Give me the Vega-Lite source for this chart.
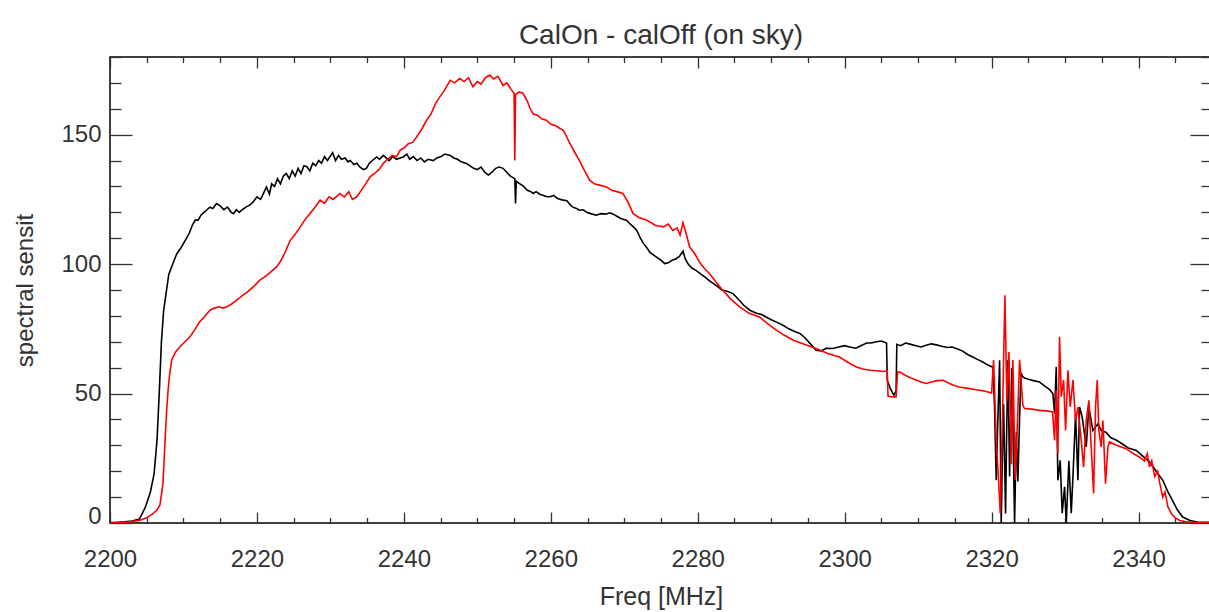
{
  "$schema": "https://vega.github.io/schema/vega-lite/v6.json",
  "width": 1102,
  "height": 466,
  "autosize": {"type": "none"},
  "padding": {"left": 110, "top": 57, "right": 0, "bottom": 89},
  "background": "white",
  "config": {
    "font": "Liberation Sans",
    "view": {"stroke": "#000", "strokeWidth": 1.5},
    "axis": {"domain": false, "grid": false, "labelFont": "Liberation Sans", "titleFont": "Liberation Sans", "labelColor": "#333", "titleColor": "#333", "labelFontSize": 24, "titleFontWeight": "normal", "tickColor": "#333", "tickWidth": 1.3}
  },
  "title": {"text": "CalOn - calOff (on sky)", "fontSize": 28, "fontWeight": "normal", "color": "#333", "font": "Liberation Sans", "offset": -5, "anchor": "middle"},
  "datasets": {
    "black": [
      {"f":2200,"v":0.2},{"f":2201,"v":0.3},{"f":2202,"v":0.5},{"f":2203,"v":0.8},{"f":2204,"v":1.5},{"f":2204.8,"v":6},{"f":2205.5,"v":12},{"f":2206,"v":19},{"f":2206.4,"v":32},{"f":2206.7,"v":50},{"f":2207,"v":70},{"f":2207.3,"v":82},{"f":2207.7,"v":90},{"f":2208,"v":96},{"f":2208.4,"v":99},{"f":2208.8,"v":102},{"f":2209.1,"v":104},{"f":2209.6,"v":106},{"f":2210.2,"v":109},{"f":2210.8,"v":112},{"f":2211.2,"v":115},{"f":2211.6,"v":117},{"f":2212,"v":117},{"f":2212.4,"v":119},{"f":2212.8,"v":120},{"f":2213.2,"v":121},{"f":2213.6,"v":122},{"f":2214,"v":121.5},{"f":2214.5,"v":123.4},{"f":2215,"v":122.5},{"f":2215.5,"v":121},{"f":2216,"v":122},{"f":2216.5,"v":120},{"f":2216.8,"v":119.5},{"f":2217.2,"v":121},{"f":2217.6,"v":120},{"f":2218,"v":121},{"f":2218.5,"v":122},{"f":2219,"v":122.8},{"f":2219.5,"v":124},{"f":2220,"v":126},{"f":2220.5,"v":125},{"f":2221,"v":128},{"f":2221.3,"v":129.8},{"f":2221.7,"v":127},{"f":2222,"v":131},{"f":2222.4,"v":130},{"f":2222.8,"v":133},{"f":2223.2,"v":131},{"f":2223.6,"v":134},{"f":2224,"v":135},{"f":2224.4,"v":133},{"f":2224.8,"v":136},{"f":2225.2,"v":134},{"f":2225.6,"v":137},{"f":2226,"v":135},{"f":2226.4,"v":138},{"f":2226.8,"v":137.6},{"f":2227.2,"v":136},{"f":2227.6,"v":139},{"f":2228,"v":138},{"f":2228.4,"v":140},{"f":2228.8,"v":139},{"f":2229.2,"v":141.5},{"f":2229.6,"v":140},{"f":2229.9,"v":141.4},{"f":2230.3,"v":143},{"f":2230.7,"v":140},{"f":2231.1,"v":142},{"f":2231.5,"v":140.5},{"f":2232,"v":141},{"f":2232.4,"v":139.5},{"f":2232.7,"v":140},{"f":2233.2,"v":138.5},{"f":2233.6,"v":139},{"f":2234,"v":137.5},{"f":2234.5,"v":136.5},{"f":2234.9,"v":137},{"f":2235.3,"v":139},{"f":2235.7,"v":140},{"f":2236.3,"v":141.4},{"f":2236.7,"v":140.5},{"f":2237.2,"v":142},{"f":2237.6,"v":141},{"f":2238,"v":140},{"f":2238.5,"v":141.5},{"f":2239,"v":140.5},{"f":2239.5,"v":141},{"f":2239.9,"v":141.4},{"f":2240.4,"v":142.5},{"f":2240.8,"v":140.5},{"f":2241.3,"v":141.5},{"f":2241.8,"v":140},{"f":2242.3,"v":141},{"f":2242.8,"v":139.5},{"f":2243.3,"v":140.5},{"f":2244,"v":140},{"f":2244.5,"v":141},{"f":2245,"v":141.5},{"f":2245.6,"v":142.5},{"f":2246.3,"v":142},{"f":2246.8,"v":141},{"f":2247.3,"v":140.5},{"f":2247.8,"v":139.5},{"f":2248.5,"v":138.9},{"f":2249,"v":138},{"f":2249.5,"v":137},{"f":2250,"v":136.5},{"f":2250.5,"v":137.5},{"f":2251,"v":135.5},{"f":2251.5,"v":134.4},{"f":2252,"v":135.5},{"f":2252.5,"v":137},{"f":2253,"v":137.5},{"f":2253.5,"v":137},{"f":2254,"v":135.5},{"f":2254.5,"v":134},{"f":2255.1,"v":133},{"f":2255.2,"v":123.4},{"f":2255.3,"v":132},{"f":2255.8,"v":131},{"f":2256.3,"v":130},{"f":2256.8,"v":128.5},{"f":2257.3,"v":128},{"f":2257.6,"v":127.3},{"f":2258,"v":128},{"f":2258.5,"v":127},{"f":2259,"v":126.5},{"f":2259.5,"v":126},{"f":2259.9,"v":126},{"f":2260.4,"v":126.5},{"f":2260.8,"v":125.5},{"f":2261.3,"v":125},{"f":2261.7,"v":124.7},{"f":2262.2,"v":124.5},{"f":2262.6,"v":123},{"f":2263,"v":122},{"f":2263.5,"v":121.5},{"f":2263.9,"v":120.8},{"f":2264.4,"v":121},{"f":2264.9,"v":120},{"f":2265.4,"v":119.5},{"f":2266.2,"v":118.9},{"f":2266.8,"v":119.5},{"f":2267.5,"v":119.3},{"f":2268,"v":119.8},{"f":2268.5,"v":119.3},{"f":2269,"v":118.5},{"f":2269.6,"v":117.5},{"f":2270.3,"v":117},{"f":2270.8,"v":115.5},{"f":2271.2,"v":114.5},{"f":2271.7,"v":113},{"f":2272.2,"v":110},{"f":2272.6,"v":108},{"f":2273,"v":106.6},{"f":2273.5,"v":104.5},{"f":2274,"v":103.5},{"f":2274.5,"v":102.5},{"f":2275,"v":101.5},{"f":2275.5,"v":100.2},{"f":2276,"v":100.5},{"f":2276.5,"v":101.5},{"f":2277,"v":102},{"f":2277.5,"v":103},{"f":2278,"v":105},{"f":2278.3,"v":102},{"f":2278.7,"v":100},{"f":2279.2,"v":98.5},{"f":2279.8,"v":97.5},{"f":2280.3,"v":96.4},{"f":2281,"v":95},{"f":2281.6,"v":93.5},{"f":2282.5,"v":91.8},{"f":2283.3,"v":90},{"f":2284,"v":89.5},{"f":2284.8,"v":88.6},{"f":2285.5,"v":86.5},{"f":2286.3,"v":84},{"f":2287.1,"v":82.2},{"f":2288,"v":81},{"f":2288.7,"v":80.5},{"f":2289.3,"v":79.6},{"f":2290,"v":78.5},{"f":2290.8,"v":77.5},{"f":2291.6,"v":76.4},{"f":2292.4,"v":75},{"f":2293.2,"v":74},{"f":2293.9,"v":73.2},{"f":2294.6,"v":71.5},{"f":2295.4,"v":69},{"f":2296.1,"v":66.7},{"f":2296.8,"v":66.5},{"f":2297.5,"v":67.5},{"f":2298.4,"v":67.4},{"f":2299.2,"v":68},{"f":2300,"v":68.5},{"f":2300.7,"v":68},{"f":2301.5,"v":67.5},{"f":2302.2,"v":68.5},{"f":2303,"v":69.5},{"f":2303.6,"v":69.5},{"f":2304.3,"v":70},{"f":2305,"v":70.3},{"f":2305.7,"v":69.5},{"f":2305.8,"v":55},{"f":2306.2,"v":52},{"f":2306.7,"v":49.3},{"f":2307,"v":51},{"f":2307.1,"v":69},{"f":2307.6,"v":68.5},{"f":2308.3,"v":69.5},{"f":2309,"v":69},{"f":2309.7,"v":68.5},{"f":2310.4,"v":68},{"f":2311.1,"v":68.7},{"f":2311.8,"v":69.2},{"f":2312.5,"v":68.8},{"f":2313.2,"v":68.3},{"f":2314,"v":67.8},{"f":2314.6,"v":68},{"f":2315.2,"v":67.4},{"f":2316,"v":66.5},{"f":2316.8,"v":65},{"f":2317.5,"v":64},{"f":2318.2,"v":63},{"f":2318.8,"v":62.2},{"f":2319.5,"v":61},{"f":2320.1,"v":60.3},{"f":2320.18,"v":60},{"f":2320.4,"v":45},{"f":2320.63,"v":16.5},{"f":2320.85,"v":40},{"f":2321.09,"v":62.9},{"f":2321.31,"v":0},{"f":2321.5,"v":30},{"f":2321.63,"v":46},{"f":2321.9,"v":3.7},{"f":2322.05,"v":35},{"f":2322.22,"v":63},{"f":2322.45,"v":18},{"f":2322.6,"v":40},{"f":2322.77,"v":60},{"f":2323.13,"v":0},{"f":2323.36,"v":35},{"f":2323.58,"v":16},{"f":2323.8,"v":40},{"f":2324.0,"v":58},{"f":2324.26,"v":56.4},{"f":2324.49,"v":56},{"f":2325,"v":55.5},{"f":2325.7,"v":55},{"f":2326.5,"v":54.5},{"f":2327.2,"v":53},{"f":2327.9,"v":51.5},{"f":2328.34,"v":50},{"f":2328.57,"v":42.3},{"f":2328.8,"v":60.3},{"f":2329.02,"v":16.5},{"f":2329.34,"v":24.2},{"f":2329.61,"v":3.8},{"f":2329.93,"v":14},{"f":2330.16,"v":0},{"f":2330.52,"v":24},{"f":2330.84,"v":3.8},{"f":2331.07,"v":17.8},{"f":2331.43,"v":42},{"f":2331.75,"v":16.5},{"f":2331.97,"v":44.8},{"f":2332.33,"v":41},{"f":2332.88,"v":29.4},{"f":2333.24,"v":44.8},{"f":2333.79,"v":35.7},{"f":2334.47,"v":38.3},{"f":2334.92,"v":35.7},{"f":2335.6,"v":35},{"f":2336.2,"v":33},{"f":2337,"v":32},{"f":2337.8,"v":30.5},{"f":2338.6,"v":29},{"f":2339.7,"v":28},{"f":2340.5,"v":26},{"f":2341.5,"v":23.6},{"f":2342.4,"v":20},{"f":2343.3,"v":16.5},{"f":2344,"v":12},{"f":2344.6,"v":8.8},{"f":2345.3,"v":5},{"f":2346,"v":2.3},{"f":2347,"v":1},{"f":2348,"v":0.4},{"f":2350,"v":0.2}
    ],
    "red": [
      {"f":2200,"v":0.1},{"f":2201,"v":0.2},{"f":2202,"v":0.3},{"f":2203,"v":0.6},{"f":2204,"v":1},{"f":2205,"v":2},{"f":2205.8,"v":3.5},{"f":2206.4,"v":5},{"f":2206.8,"v":7},{"f":2207.2,"v":15},{"f":2207.5,"v":32},{"f":2207.7,"v":43},{"f":2207.9,"v":51},{"f":2208.1,"v":57},{"f":2208.4,"v":63},{"f":2208.9,"v":66},{"f":2209.5,"v":68},{"f":2210.2,"v":70},{"f":2210.9,"v":72},{"f":2211.5,"v":74.5},{"f":2212.2,"v":77.7},{"f":2212.8,"v":79.5},{"f":2213.6,"v":82.2},{"f":2214.2,"v":83},{"f":2214.8,"v":83.5},{"f":2215.4,"v":83},{"f":2215.9,"v":83.5},{"f":2216.5,"v":84.5},{"f":2217.2,"v":86},{"f":2218.1,"v":88},{"f":2218.8,"v":89.5},{"f":2219.6,"v":91.5},{"f":2220.4,"v":93.8},{"f":2221,"v":95},{"f":2221.7,"v":96.5},{"f":2222.7,"v":99},{"f":2223.3,"v":101.5},{"f":2223.9,"v":105},{"f":2224.5,"v":109},{"f":2225.2,"v":111.5},{"f":2225.9,"v":114.4},{"f":2226.5,"v":117},{"f":2227.2,"v":119.5},{"f":2227.9,"v":122},{"f":2228.6,"v":124.7},{"f":2229.2,"v":123.5},{"f":2229.8,"v":126},{"f":2230.4,"v":125},{"f":2231.3,"v":127.3},{"f":2231.9,"v":126},{"f":2232.5,"v":128},{"f":2233,"v":125},{"f":2233.6,"v":126},{"f":2234.2,"v":128.5},{"f":2234.8,"v":131},{"f":2235.4,"v":133.7},{"f":2236,"v":135},{"f":2236.6,"v":136.5},{"f":2237.2,"v":138.9},{"f":2237.8,"v":140.5},{"f":2238.4,"v":142},{"f":2239,"v":141.5},{"f":2239.5,"v":144},{"f":2240.1,"v":145},{"f":2240.6,"v":146.5},{"f":2241.2,"v":147},{"f":2241.7,"v":149},{"f":2242.4,"v":152},{"f":2243.1,"v":155.6},{"f":2243.7,"v":158},{"f":2244.3,"v":162},{"f":2244.9,"v":164.6},{"f":2245.5,"v":167},{"f":2246.3,"v":171},{"f":2246.9,"v":170},{"f":2247.6,"v":171.7},{"f":2248.2,"v":170.5},{"f":2248.8,"v":172},{"f":2249.4,"v":168.5},{"f":2250,"v":170.5},{"f":2250.5,"v":169.5},{"f":2251.1,"v":172},{"f":2251.7,"v":173},{"f":2252.2,"v":171.5},{"f":2252.8,"v":172.5},{"f":2253.5,"v":169},{"f":2254,"v":170},{"f":2254.6,"v":167.5},{"f":2255,"v":166},{"f":2255.1,"v":140},{"f":2255.2,"v":165.5},{"f":2255.7,"v":166.5},{"f":2256.2,"v":166},{"f":2256.8,"v":163},{"f":2257.2,"v":160},{"f":2257.6,"v":158},{"f":2258.2,"v":157.5},{"f":2258.8,"v":156},{"f":2259.4,"v":155.6},{"f":2260,"v":154},{"f":2260.6,"v":153.5},{"f":2261.2,"v":152.5},{"f":2261.7,"v":151.7},{"f":2262.2,"v":149},{"f":2262.6,"v":146.6},{"f":2263.2,"v":143.5},{"f":2263.9,"v":140},{"f":2264.6,"v":136},{"f":2265.3,"v":132.4},{"f":2265.9,"v":131},{"f":2266.6,"v":130.5},{"f":2267.6,"v":129.8},{"f":2268.3,"v":128.5},{"f":2269,"v":128},{"f":2269.8,"v":127.3},{"f":2270.5,"v":124},{"f":2271.2,"v":119.5},{"f":2272,"v":118},{"f":2273,"v":117},{"f":2273.5,"v":116.3},{"f":2274.2,"v":115},{"f":2275.3,"v":114.4},{"f":2276,"v":115.5},{"f":2276.6,"v":113},{"f":2277.2,"v":114},{"f":2277.6,"v":111.2},{"f":2278,"v":116},{"f":2278.4,"v":112},{"f":2278.9,"v":106.6},{"f":2279.6,"v":104},{"f":2280.3,"v":100.5},{"f":2281,"v":98},{"f":2281.6,"v":96.4},{"f":2282.5,"v":93},{"f":2283.4,"v":89.9},{"f":2284.5,"v":86.5},{"f":2285.7,"v":83.5},{"f":2287,"v":81},{"f":2288.4,"v":79.6},{"f":2289.5,"v":77},{"f":2290.7,"v":74.5},{"f":2291.8,"v":72.5},{"f":2293,"v":70.6},{"f":2294.5,"v":69},{"f":2296.1,"v":67.4},{"f":2297.7,"v":65.5},{"f":2299.3,"v":64.1},{"f":2300.7,"v":61.6},{"f":2301.6,"v":60.3},{"f":2302.5,"v":59.5},{"f":2303.4,"v":59},{"f":2304.3,"v":58.8},{"f":2305.2,"v":58.5},{"f":2305.8,"v":58.7},{"f":2305.9,"v":49},{"f":2306.5,"v":48.7},{"f":2307,"v":48.7},{"f":2307.2,"v":58.3},{"f":2307.5,"v":58.3},{"f":2308.3,"v":57},{"f":2309,"v":56},{"f":2309.8,"v":55.1},{"f":2310.4,"v":54.5},{"f":2311.1,"v":53.9},{"f":2311.8,"v":54.5},{"f":2312.6,"v":55},{"f":2313.4,"v":55.1},{"f":2314.2,"v":54},{"f":2315,"v":53},{"f":2315.6,"v":52.5},{"f":2316.8,"v":52},{"f":2317.9,"v":51.5},{"f":2319,"v":51},{"f":2320,"v":50.2},{"f":2320.27,"v":62.9},{"f":2320.63,"v":32},{"f":2320.95,"v":16.5},{"f":2321.18,"v":3.7},{"f":2321.45,"v":37},{"f":2321.81,"v":88},{"f":2322.08,"v":47},{"f":2322.36,"v":66},{"f":2322.68,"v":22.7},{"f":2322.9,"v":63},{"f":2323.22,"v":16.5},{"f":2323.5,"v":37.5},{"f":2323.81,"v":63},{"f":2324.04,"v":54},{"f":2324.26,"v":45.4},{"f":2324.49,"v":44.2},{"f":2325.5,"v":44},{"f":2326.5,"v":43.5},{"f":2327.5,"v":43.3},{"f":2328.3,"v":42.9},{"f":2328.57,"v":31.9},{"f":2328.8,"v":51.3},{"f":2329.02,"v":26.8},{"f":2329.25,"v":71.9},{"f":2329.48,"v":48.8},{"f":2329.8,"v":55.2},{"f":2330.07,"v":35.7},{"f":2330.39,"v":59},{"f":2330.7,"v":44.8},{"f":2331.07,"v":55.2},{"f":2331.43,"v":39.6},{"f":2331.75,"v":44.8},{"f":2332.2,"v":31.9},{"f":2332.52,"v":21.6},{"f":2332.88,"v":39.6},{"f":2333.24,"v":47.4},{"f":2333.56,"v":29.4},{"f":2333.88,"v":11.4},{"f":2334.15,"v":44.8},{"f":2334.38,"v":55.2},{"f":2334.6,"v":35.7},{"f":2334.92,"v":29.4},{"f":2335.15,"v":39.6},{"f":2335.51,"v":15.2},{"f":2335.83,"v":29.4},{"f":2336.05,"v":31.3},{"f":2337,"v":30},{"f":2338.3,"v":28.7},{"f":2339.2,"v":27},{"f":2340.1,"v":25.5},{"f":2340.8,"v":24},{"f":2341.2,"v":26.8},{"f":2341.5,"v":21.6},{"f":2341.8,"v":24},{"f":2342.2,"v":18},{"f":2342.6,"v":20},{"f":2342.9,"v":15.2},{"f":2343.3,"v":10},{"f":2343.6,"v":12},{"f":2344,"v":6.2},{"f":2344.5,"v":3.5},{"f":2345,"v":2},{"f":2345.6,"v":1},{"f":2346.5,"v":0.5},{"f":2348,"v":0.2},{"f":2350,"v":0.1}
    ]
  },
  "layer": [
    {
      "data": {"name": "black"},
      "mark": {"type": "line", "color": "#000", "strokeWidth": 1.6, "clip": true},
      "encoding": {
        "x": {"field": "f", "type": "quantitative", "scale": {"domain": [2200, 2350], "nice": false, "zero": false},
          "axis": {"orient": "bottom", "title": "Freq [MHz]", "titleFontSize": 25, "titlePadding": 8,
            "values": [2200,2205,2210,2215,2220,2225,2230,2235,2240,2245,2250,2255,2260,2265,2270,2275,2280,2285,2290,2295,2300,2305,2310,2315,2320,2325,2330,2335,2340,2345,2350],
            "labelExpr": "datum.value % 20 === 0 && datum.value < 2350 ? format(datum.value, 'd') : ''",
            "tickSize": {"condition": {"test": "datum.value % 20 === 0", "value": -11}, "value": -5.5},
            "labelPadding": 35, "labelFlush": false, "labelOverlap": false}},
        "y": {"field": "v", "type": "quantitative", "scale": {"domain": [0, 180], "nice": false},
          "axis": {"orient": "left", "title": "spectral sensit", "titleFontSize": 24, "titlePadding": 23,
            "values": [0,10,20,30,40,50,60,70,80,90,100,110,120,130,140,150,160,170,180],
            "labelExpr": "datum.value % 50 === 0 ? format(datum.value, 'd') : ''",
            "labelBaseline": {"condition": {"test": "datum.value === 0", "value": "alphabetic"}, "value": "middle"},
            "tickSize": {"condition": {"test": "datum.value % 50 === 0", "value": -22}, "value": -11},
            "labelPadding": 31, "labelOverlap": false}}
      }
    },
    {
      "data": {"name": "red"},
      "mark": {"type": "line", "color": "#ff0000", "strokeWidth": 1.6, "clip": true},
      "encoding": {
        "x": {"field": "f", "type": "quantitative",
          "axis": {"orient": "top", "title": null, "labels": false,
            "values": [2200,2205,2210,2215,2220,2225,2230,2235,2240,2245,2250,2255,2260,2265,2270,2275,2280,2285,2290,2295,2300,2305,2310,2315,2320,2325,2330,2335,2340,2345,2350],
            "tickSize": {"condition": {"test": "datum.value % 20 === 0", "value": -11}, "value": -5.5}}},
        "y": {"field": "v", "type": "quantitative",
          "axis": {"orient": "right", "title": null, "labels": false,
            "values": [0,10,20,30,40,50,60,70,80,90,100,110,120,130,140,150,160,170,180],
            "tickSize": {"condition": {"test": "datum.value % 50 === 0", "value": -22}, "value": -11}}}
      }
    }
  ],
  "resolve": {"axis": {"x": "independent", "y": "independent"}}
}
